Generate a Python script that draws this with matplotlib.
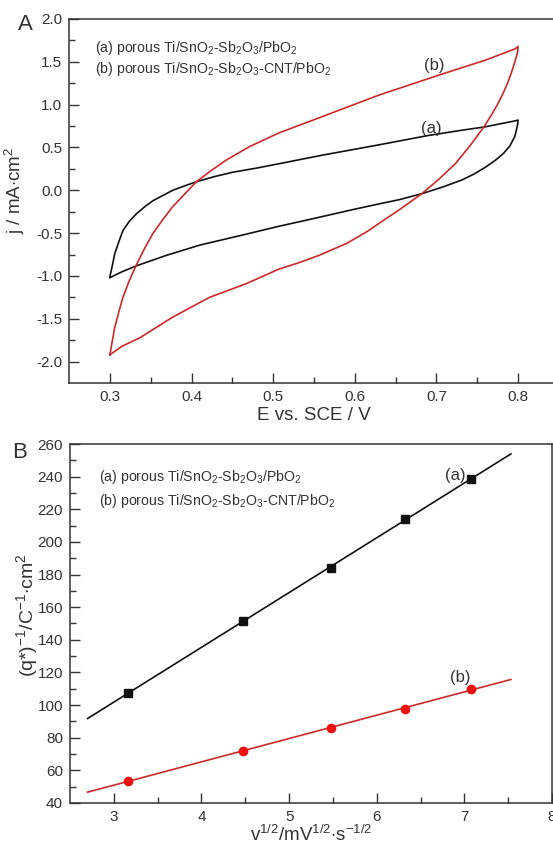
import matplotlib
matplotlib.use("Agg")
import matplotlib.pyplot as plt
import numpy as np

plt.rcParams["font.family"] = ["Liberation Sans", "DejaVu Sans"]
plt.rcParams["mathtext.fontset"] = "custom"
plt.rcParams["mathtext.rm"] = "Liberation Sans"
plt.rcParams["mathtext.it"] = "Liberation Sans:italic"
plt.rcParams["mathtext.default"] = "rm"

# Panel A: cyclic voltammograms (closed loops, anodic then cathodic)
E_a = [0.300, 0.303, 0.306, 0.311, 0.316, 0.324, 0.333, 0.343, 0.353, 0.365, 0.377,
       0.391, 0.406, 0.428, 0.450, 0.480, 0.507, 0.560, 0.629, 0.690, 0.730, 0.759,
       0.780, 0.796, 0.800,
       0.799, 0.796, 0.790, 0.782, 0.772, 0.760, 0.746, 0.731, 0.708, 0.682, 0.654,
       0.629, 0.600, 0.577, 0.540, 0.507, 0.459, 0.410, 0.369, 0.333, 0.315, 0.300]
j_a = [-1.01, -0.88, -0.74, -0.60, -0.47, -0.36, -0.27, -0.19, -0.12, -0.06, 0.00,
       0.05, 0.10, 0.16, 0.21, 0.26, 0.31, 0.41, 0.53, 0.64, 0.70, 0.74,
       0.78, 0.81, 0.82,
       0.75, 0.63, 0.52, 0.43, 0.35, 0.27, 0.19, 0.12, 0.04, -0.04, -0.11,
       -0.16, -0.22, -0.27, -0.35, -0.42, -0.53, -0.64, -0.76, -0.88, -0.95, -1.02]

E_b = [0.300, 0.303, 0.306, 0.311, 0.316, 0.324, 0.333, 0.343, 0.353, 0.365, 0.377,
       0.391, 0.406, 0.424, 0.442, 0.471, 0.507, 0.560, 0.629, 0.711, 0.760, 0.796,
       0.800,
       0.799, 0.796, 0.792, 0.787, 0.781, 0.774, 0.766, 0.758, 0.741, 0.723, 0.703,
       0.682, 0.654, 0.629, 0.617, 0.590, 0.556, 0.530, 0.507, 0.467, 0.422, 0.377,
       0.337, 0.315, 0.300]
j_b = [-1.92, -1.76, -1.60, -1.42, -1.25, -1.05, -0.86, -0.67, -0.50, -0.34, -0.19,
       -0.05, 0.10, 0.23, 0.35, 0.51, 0.67, 0.86, 1.11, 1.37, 1.52, 1.65,
       1.68,
       1.60, 1.50, 1.38, 1.25, 1.12, 0.99, 0.86, 0.74, 0.52, 0.31, 0.13,
       -0.04, -0.23, -0.39, -0.47, -0.62, -0.76, -0.85, -0.92, -1.09, -1.25, -1.48,
       -1.72, -1.82, -1.92]

# Panel B: inverse voltammetric charge vs v^1/2
v_sqrt = [3.162, 4.472, 5.477, 6.325, 7.071]
q_inv_a = [107.4, 151.5, 184.0, 214.0, 238.6]
q_inv_b = [53.5, 72.0, 86.0, 97.6, 110.0]
fit_range = [2.7, 7.53]

legend_a = r"(a) porous Ti/SnO$_2$-Sb$_2$O$_3$/PbO$_2$"
legend_b = r"(b) porous Ti/SnO$_2$-Sb$_2$O$_3$-CNT/PbO$_2$"

BLACK = "#111111"
RED = "#cc2a2a"
DOT_RED = "#ee1111"
AXC = "#333333"

fig = plt.figure(figsize=(5.53, 8.48), dpi=100)
axA = fig.add_axes([0.1248, 0.5483, 0.886, 0.4293])
axB = fig.add_axes([0.1266, 0.0531, 0.8718, 0.4233])


def style(ax):
    for s in ax.spines.values():
        s.set_color(AXC)
        s.set_linewidth(1.1)
    ax.tick_params(which="both", direction="in", top=False, right=False,
                   colors=AXC, labelsize=11, width=1.0)
    ax.tick_params(which="major", length=7, pad=5)
    ax.tick_params(which="minor", length=4)


# Panel A
axA.plot(E_a, j_a, color=BLACK, lw=1.2)
axA.plot(E_b, j_b, color=RED, lw=1.2)
axA.set_xlim(0.25, 0.85)
axA.set_ylim(-2.25, 2.0)
axA.set_xticks([0.3, 0.4, 0.5, 0.6, 0.7, 0.8])
axA.set_xticks(np.arange(0.35, 0.85, 0.1), minor=True)
axA.set_yticks(np.arange(-2.0, 2.01, 0.5))
axA.set_yticks(np.arange(-1.75, 2.0, 0.5), minor=True)
axA.set_xticklabels(["0.3", "0.4", "0.5", "0.6", "0.7", "0.8"])
axA.set_yticklabels([f"{v:.1f}" for v in np.arange(-2.0, 2.01, 0.5)])
style(axA)
axA.set_xlabel("E vs. SCE / V", fontsize=13.5, color=AXC, labelpad=2)
axA.set_ylabel(r"j / mA$\cdot$cm$^2$", fontsize=13.5, color=AXC)
axA.yaxis.set_label_coords(-0.086, 0.53)
axA.text(0.2817, 1.66, legend_a, fontsize=10.2, color=AXC, va="center")
axA.text(0.2817, 1.415, legend_b, fontsize=10.2, color=AXC, va="center")
axA.text(0.6976, 1.46, "(b)", fontsize=12, color=AXC, ha="center", va="center")
axA.text(0.694, 0.725, "(a)", fontsize=12, color=AXC, ha="center", va="center")
fig.text(25 / 553, 1 - 25 / 848, "A", fontsize=16, color=AXC, ha="center", va="center")

# Panel B
xf = np.array(fit_range)
ka, ba = np.polyfit(v_sqrt, q_inv_a, 1)
kb, bb = np.polyfit(v_sqrt, q_inv_b, 1)
axB.plot(xf, ka * xf + ba, color=BLACK, lw=1.2)
axB.plot(xf, kb * xf + bb, color=RED, lw=1.2)
axB.plot(v_sqrt, q_inv_a, "s", color=BLACK, ms=5.5)
axB.plot(v_sqrt, q_inv_b, "o", color=DOT_RED, ms=6)
axB.set_xlim(2.5, 8.0)
axB.set_ylim(40, 260)
axB.set_xticks([3, 4, 5, 6, 7, 8])
axB.set_xticks(np.arange(3.5, 8.0, 1.0), minor=True)
axB.set_yticks(np.arange(40, 261, 20))
axB.set_yticks(np.arange(50, 260, 20), minor=True)
style(axB)
axB.set_xlabel(r"v$^{1/2}$/mV$^{1/2}$$\cdot$s$^{-1/2}$", fontsize=13.5, color=AXC, labelpad=1)
axB.set_ylabel(r"(q*)$^{-1}$/C$^{-1}$$\cdot$cm$^2$", fontsize=14, color=AXC)
axB.yaxis.set_label_coords(-0.062, 0.524)
axB.text(2.83, 239.6, legend_a, fontsize=10.2, color=AXC, va="center")
axB.text(2.83, 225.1, legend_b, fontsize=10.2, color=AXC, va="center")
axB.text(6.90, 241, "(a)", fontsize=12, color=AXC, ha="center", va="center")
axB.text(6.947, 116.8, "(b)", fontsize=12, color=AXC, ha="center", va="center")
fig.text(20 / 553, 1 - 453 / 848, "B", fontsize=16, color=AXC, ha="center", va="center")

fig.savefig("out.png", dpi=100, facecolor="white")
